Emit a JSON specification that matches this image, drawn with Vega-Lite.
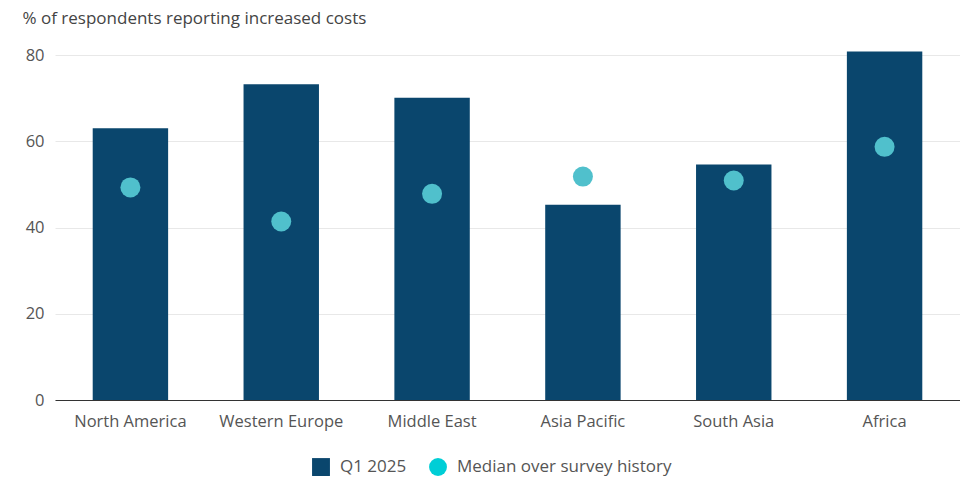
{
  "$schema": "https://vega.github.io/schema/vega-lite/v6.json",
  "autosize": {"type": "none"},
  "width": 905,
  "height": 345,
  "padding": {"left": 55, "top": 55, "right": 0, "bottom": 80},
  "background": "white",
  "config": {
    "view": {"stroke": null},
    "font": "Open Sans",
    "axis": {"labelFont": "Open Sans", "titleFont": "Open Sans", "labelColor": "#555555", "titleColor": "#444444"},
    "legend": {"labelFont": "Open Sans"}
  },
  "data": {
    "values": [
      {"region": "North America", "series": "Q1 2025", "value": 63.0},
      {"region": "Western Europe", "series": "Q1 2025", "value": 73.2},
      {"region": "Middle East", "series": "Q1 2025", "value": 70.1},
      {"region": "Asia Pacific", "series": "Q1 2025", "value": 45.3},
      {"region": "South Asia", "series": "Q1 2025", "value": 54.6},
      {"region": "Africa", "series": "Q1 2025", "value": 80.8},
      {"region": "North America", "series": "Median over survey history", "value": 49.3},
      {"region": "Western Europe", "series": "Median over survey history", "value": 41.4},
      {"region": "Middle East", "series": "Median over survey history", "value": 47.8},
      {"region": "Asia Pacific", "series": "Median over survey history", "value": 51.8},
      {"region": "South Asia", "series": "Median over survey history", "value": 50.9},
      {"region": "Africa", "series": "Median over survey history", "value": 58.7}
    ]
  },
  "encoding": {
    "x": {
      "field": "region", "type": "nominal", "sort": null,
      "scale": {"paddingInner": 0.5, "paddingOuter": 0.25},
      "axis": {
        "title": null, "labelAngle": 0, "labelFontSize": 16.5, "labelPadding": 13,
        "ticks": false, "domainColor": "#333333", "domainWidth": 1.2, "grid": false
      }
    },
    "y": {
      "field": "value", "type": "quantitative",
      "scale": {"domain": [0, 80], "nice": false},
      "axis": {
        "title": "% of respondents reporting increased costs",
        "titleAngle": 0, "titleAlign": "left", "titleBaseline": "middle",
        "titleX": -33, "titleY": -37, "titleFontSize": 17, "titleFontWeight": "normal",
        "values": [0, 20, 40, 60, 80], "labelFontSize": 16.5, "labelPadding": 11,
        "ticks": false, "domain": false, "gridColor": "#e8e8e8", "gridWidth": 1
      }
    },
    "color": {
      "field": "series", "type": "nominal",
      "scale": {"domain": ["Q1 2025", "Median over survey history"], "range": ["#0a466d", "#00ced6"]},
      "legend": {
        "title": null, "orient": "none", "legendX": 257, "legendY": 403,
        "direction": "horizontal", "labelFontSize": 17, "labelColor": "#555555", "labelLimit": 400,
        "symbolSize": 320, "symbolStrokeWidth": 0, "columnPadding": 22, "labelOffset": 10,
        "symbolType": "square",
        "encode": {
          "symbols": {
            "update": {
              "shape": {"signal": "datum.value === 'Q1 2025' ? 'square' : 'circle'"}
            }
          }
        }
      }
    }
  },
  "layer": [
    {
      "transform": [{"filter": "datum.series === 'Q1 2025'"}],
      "mark": {"type": "bar"}
    },
    {
      "transform": [{"filter": "datum.series !== 'Q1 2025'"}],
      "mark": {"type": "point", "filled": true, "size": 400, "opacity": 1, "shape": "circle"},
      "encoding": {"color": {"value": "#50c0cc"}}
    }
  ]
}
